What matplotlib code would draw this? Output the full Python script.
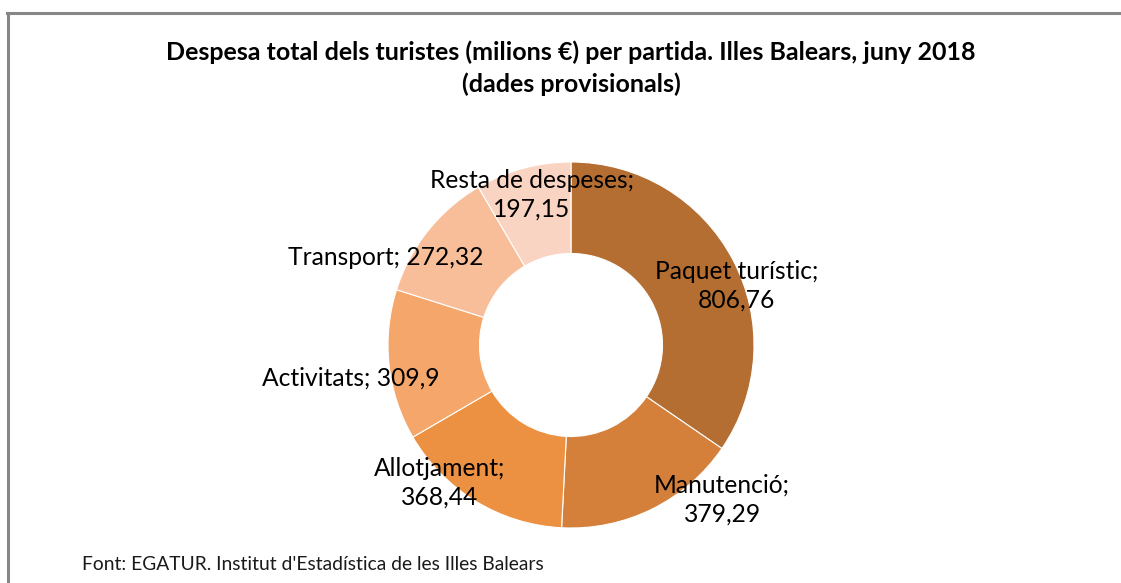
import matplotlib.pyplot as plt
import numpy as np
from matplotlib.lines import Line2D

# Dades
categories = ['Paquet turístic', 'Manutenció', 'Allotjament', 'Activitats',
              'Transport', 'Resta de despeses']
valors = [806.76, 379.29, 368.44, 309.9, 272.32, 197.15]
etiquetes_valor = ['806,76', '379,29', '368,44', '309,9', '272,32', '197,15']
colors = ['#B46E32', '#D4803A', '#EC9142', '#F5A76B', '#F8BE9A', '#FAD4C2']

# posició de les etiquetes (radi relatiu, desplaçament angular en graus)
label_r = [0.96, 1.18, 1.04, 1.22, 1.12, 0.85]
label_dth = [-8.1, 18.1, -12.4, 2.3, 13.4, -0.7]
label_two_lines = [True, True, True, False, False, True]

plt.rcParams['font.family'] = ['Lato', 'DejaVu Sans']

fig = plt.figure(figsize=(11.21, 5.83), dpi=100)
fig.patch.set_facecolor('white')

# marc del gràfic
fig.add_artist(Line2D([7/1121, 1], [1 - 13/583, 1 - 13/583], color='#878787', lw=2.2,
                      transform=fig.transFigure))
fig.add_artist(Line2D([7.5/1121, 7.5/1121], [0, 1 - 13/583], color='#878787', lw=2.2,
                      transform=fig.transFigure))

# eix quadrat centrat al donut (centre 571,345 px; radi 183 px)
cx, cy, R = 571, 345, 183
ax = fig.add_axes([(cx - R) / 1121, (583 - cy - R) / 583, 2 * R / 1121, 2 * R / 583])
wedges, _ = ax.pie(valors, colors=colors, startangle=90, counterclock=False,
                   radius=1.0, wedgeprops=dict(width=0.5, edgecolor='white', linewidth=0.8))
ax.set_xlim(-1, 1)
ax.set_ylim(-1, 1)
ax.set_aspect('auto')
ax.axis('off')

for w, cat, val, r, dth, two in zip(wedges, categories, etiquetes_valor,
                                    label_r, label_dth, label_two_lines):
    th = np.deg2rad((w.theta1 + w.theta2) / 2 + dth)
    txt = f'{cat};\n{val}' if two else f'{cat}; {val}'
    ax.text(r * np.cos(th), r * np.sin(th), txt, ha='center', va='center',
            fontsize=17.7, color='black', linespacing=1.3, clip_on=False)

fig.text(571/1121, 1 - 68.5/583,
         'Despesa total dels turistes (milions €) per partida. Illes Balears, juny 2018\n(dades provisionals)',
         ha='center', va='center', fontsize=18, fontweight='bold', linespacing=1.45)

fig.text(82/1121, 1 - 564/583, "Font: EGATUR. Institut d'Estadística de les Illes Balears",
         ha='left', va='center', fontsize=13.9, color='#1a1a1a')

fig.savefig('out.png', dpi=100, facecolor='white')
